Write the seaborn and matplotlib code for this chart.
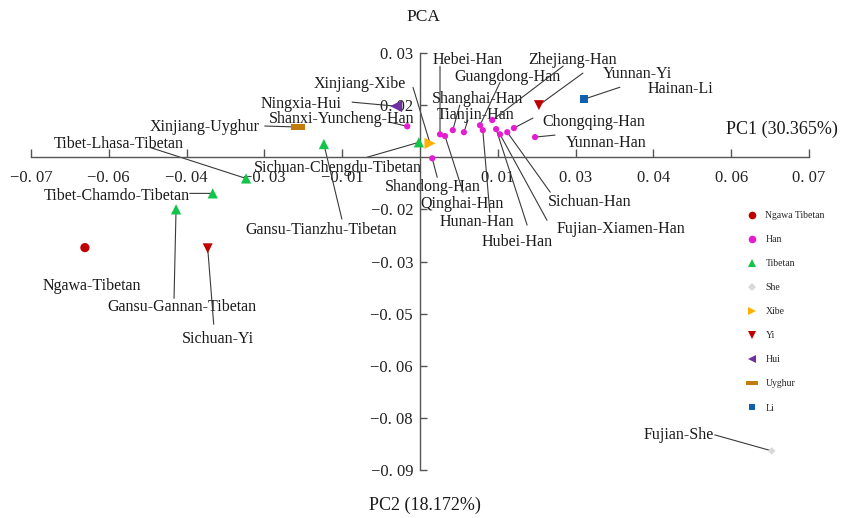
import numpy as np
import pandas as pd
import matplotlib
matplotlib.use("Agg")
import matplotlib.pyplot as plt
from matplotlib.lines import Line2D
from matplotlib.path import Path
import seaborn as sns

# ---------------- data ----------------
populations = [
    "Ngawa-Tibetan",
    "Shanxi-Yuncheng-Han", "Shandong-Han", "Hebei-Han", "Qinghai-Han",
    "Shanghai-Han", "Tianjin-Han", "Guangdong-Han", "Hunan-Han",
    "Zhejiang-Han", "Hubei-Han", "Fujian-Xiamen-Han", "Sichuan-Han",
    "Chongqing-Han", "Yunnan-Han",
    "Sichuan-Chengdu-Tibetan", "Gansu-Tianzhu-Tibetan", "Tibet-Lhasa-Tibetan",
    "Tibet-Chamdo-Tibetan", "Gansu-Gannan-Tibetan",
    "Fujian-She", "Xinjiang-Xibe", "Yunnan-Yi", "Sichuan-Yi",
    "Ningxia-Hui", "Xinjiang-Uyghur", "Hainan-Li",
]
pc1 = [
    -0.0603,
    -0.0023, 0.0022, 0.0036, 0.0045,
    0.0059, 0.0079, 0.0108, 0.0113,
    0.0130, 0.0137, 0.0144, 0.0157,
    0.0169, 0.0207,
    -0.0002, -0.0173, -0.0313,
    -0.0373, -0.0439,
    0.0633, 0.0018, 0.0214, -0.0382,
    -0.0043, -0.0220, 0.0295,
]
pc2 = [
    -0.0260,
    0.0089, -0.0003, 0.0066, 0.0061,
    0.0078, 0.0072, 0.0092, 0.0078,
    0.0107, 0.0081, 0.0066, 0.0072,
    0.0084, 0.0058,
    0.0043, 0.0038, -0.0061,
    -0.0104, -0.0150,
    -0.0845, 0.0040, 0.0150, -0.0262,
    0.0147, 0.0087, 0.0167,
]
groups = [
    "Ngawa Tibetan",
    "Han", "Han", "Han", "Han",
    "Han", "Han", "Han", "Han",
    "Han", "Han", "Han", "Han",
    "Han", "Han",
    "Tibetan", "Tibetan", "Tibetan",
    "Tibetan", "Tibetan",
    "She", "Xibe", "Yi", "Yi",
    "Hui", "Uyghur", "Li",
]
legend_order = ["Ngawa Tibetan", "Han", "Tibetan", "She", "Xibe", "Yi", "Hui", "Uyghur", "Li"]

xtick_values = [-0.07, -0.056, -0.042, -0.028, -0.014, 0.014, 0.028, 0.042, 0.056, 0.07]
xtick_labels = ["\u22120. 07", "\u22120. 06", "\u22120. 04", "\u22120. 03", "\u22120. 01",
                "0. 01", "0. 03", "0. 04", "0. 06", "0. 07"]
ytick_values = [0.03, 0.015, -0.015, -0.03, -0.045, -0.06, -0.075, -0.09]
ytick_labels = ["0. 03", "0. 02", "\u22120. 02", "\u22120. 03", "\u22120. 05",
                "\u22120. 06", "\u22120. 08", "\u22120. 09"]

title = "PCA"
xlabel = "PC1 (30.365%)"
ylabel = "PC2 (18.172%)"

# ---------------- styles ----------------
rect = Path([(-1, -0.38), (1, -0.38), (1, 0.38), (-1, 0.38), (-1, -0.38)],
            [Path.MOVETO, Path.LINETO, Path.LINETO, Path.LINETO, Path.CLOSEPOLY])
palette = {"Ngawa Tibetan": "#C00000", "Han": "#E41DD0", "Tibetan": "#12C54A",
           "She": "#D9D9D9", "Xibe": "#FFB000", "Yi": "#C00000", "Hui": "#7030A0",
           "Uyghur": "#C27C0E", "Li": "#1060B0"}
markers = {"Ngawa Tibetan": "o", "Han": "o", "Tibetan": "^", "She": "D", "Xibe": ">",
           "Yi": "v", "Hui": "<", "Uyghur": rect, "Li": "s"}
sizes = {"Ngawa Tibetan": 44, "Han": 20, "Tibetan": 54, "She": 15, "Xibe": 64,
         "Yi": 52, "Hui": 74, "Uyghur": 100, "Li": 36}
leg_sizes = {"Ngawa Tibetan": 5.5, "Han": 5.5, "Tibetan": 5.5, "She": 4.0, "Xibe": 6,
             "Yi": 6, "Hui": 6, "Uyghur": 8, "Li": 5}

# label offsets (display pixels): text centre dx, dy ; leader end lx, ly
label_offsets = {
    "Ngawa-Tibetan": (7, -36, None, None),
    "Shanxi-Yuncheng-Han": (-66, 9, -17, 4),
    "Shandong-Han": (1, -27, 5, -19),
    "Hebei-Han": (28, 76, 0, 68),
    "Qinghai-Han": (17, -66, 18, -56),
    "Shanghai-Han": (25, 33, 7, 25),
    "Tianjin-Han": (12, 19, 4, 12),
    "Guangdong-Han": (27, 50, 20, 43),
    "Zhejiang-Han": (80, 62, 71, 54),
    "Hunan-Han": (-6, -90, 7, -82),
    "Hubei-Han": (21, -111, 31, -96),
    "Fujian-Xiamen-Han": (121, -93, 47, -86),
    "Sichuan-Han": (82, -68, 43, -60),
    "Chongqing-Han": (80, 8, 19, 10),
    "Yunnan-Han": (71, -4, 20, 2),
    "Yunnan-Yi": (99, 33, 44, 32),
    "Hainan-Li": (97, 12, 36, 12),
    "Ningxia-Hui": (-95, 4, -44, 4),
    "Xinjiang-Xibe": (-70, 61, -17, 56),
    "Xinjiang-Uyghur": (-93, 2, -33, 1),
    "Tibet-Lhasa-Tibetan": (-127, 36, -96, 31),
    "Tibet-Chamdo-Tibetan": (-96, -1, -23, 0),
    "Gansu-Gannan-Tibetan": (6, -96, -2, -89),
    "Sichuan-Yi": (10, -89, 6, -76),
    "Sichuan-Chengdu-Tibetan": (-81, -24, -52, -15),
    "Gansu-Tianzhu-Tibetan": (-3, -84, 18, -75),
    "Fujian-She": (-93, 18, -57, 16),
}

# ---------------- figure ----------------
sns.set_theme(style="ticks")
plt.rcParams["font.family"] = ["Liberation Serif", "DejaVu Serif"]
plt.rcParams["axes.unicode_minus"] = True

W, H = 841, 518
fig = plt.figure(figsize=(W / 100, H / 100), dpi=100)
fig.patch.set_facecolor("white")
ax = fig.add_axes([31 / W, 48 / H, 778 / W, 417 / H])
ax.set_facecolor("white")

df = pd.DataFrame({"population": populations, "pc1": pc1, "pc2": pc2, "group": groups})

# leader lines and labels (below markers)
for name, x, y in zip(populations, pc1, pc2):
    dx, dy, lx, ly = label_offsets[name]
    if lx is not None:
        ax.annotate("", xy=(x, y), xytext=(lx, ly), textcoords="offset pixels",
                    arrowprops=dict(arrowstyle="-", color="#3a3a3a", lw=0.8,
                                    shrinkA=0, shrinkB=0),
                    annotation_clip=False, zorder=2)
    ax.annotate(name, xy=(x, y), xytext=(dx, dy), textcoords="offset pixels",
                ha="center", va="center_baseline", fontsize=11.5, color="#1a1a1a",
                annotation_clip=False, zorder=2)

sns.scatterplot(data=df, x="pc1", y="pc2", hue="group", style="group", size="group",
                palette=palette, markers=markers, sizes=sizes, linewidth=0,
                legend=False, ax=ax, zorder=3)

ax.set_xlim(-0.07, 0.07)
ax.set_ylim(-0.09, 0.03)
ax.set_xlabel("")
ax.set_ylabel("")
for side in ["top", "right"]:
    ax.spines[side].set_visible(False)
ax.spines["left"].set_position(("data", 0))
ax.spines["bottom"].set_position(("data", 0))
for side in ["left", "bottom"]:
    ax.spines[side].set_color("#555555")
    ax.spines[side].set_linewidth(1.0)

ax.set_xticks(xtick_values, xtick_labels)
ax.set_yticks(ytick_values, ytick_labels)
ax.tick_params(axis="x", direction="in", length=5.5, width=1.0, color="#555555",
               pad=9.5, labelsize=12, labelcolor="#222222", bottom=True, top=False)
ax.tick_params(axis="y", direction="in", length=5, width=1.0, color="#555555",
               pad=5, labelsize=12, labelcolor="#222222", left=True, right=False)
for lab in ax.get_yticklabels():
    lab.set_verticalalignment("center_baseline")

fig.text(423 / W, 1 - 17 / H, title, ha="center", va="center", fontsize=12.5, color="#1a1a1a")
fig.text(782 / W, 1 - 129 / H, xlabel, ha="center", va="center", fontsize=13, color="#1a1a1a")
fig.text(425 / W, 1 - 505 / H, ylabel, ha="center", va="center", fontsize=13, color="#1a1a1a")

handles = [Line2D([0], [0], linestyle="none", marker=markers[g], color=palette[g],
                  markerfacecolor=palette[g], markeredgewidth=0, markersize=leg_sizes[g])
           for g in legend_order]
fig.legend(handles, legend_order, loc="upper left", bbox_to_anchor=(746 / W, 1 - 211 / H),
           frameon=False, fontsize=7, handlelength=1.2, handletextpad=0.8,
           labelspacing=1.55, borderpad=0, borderaxespad=0)

fig.savefig("out.png", dpi=100, facecolor="white")
